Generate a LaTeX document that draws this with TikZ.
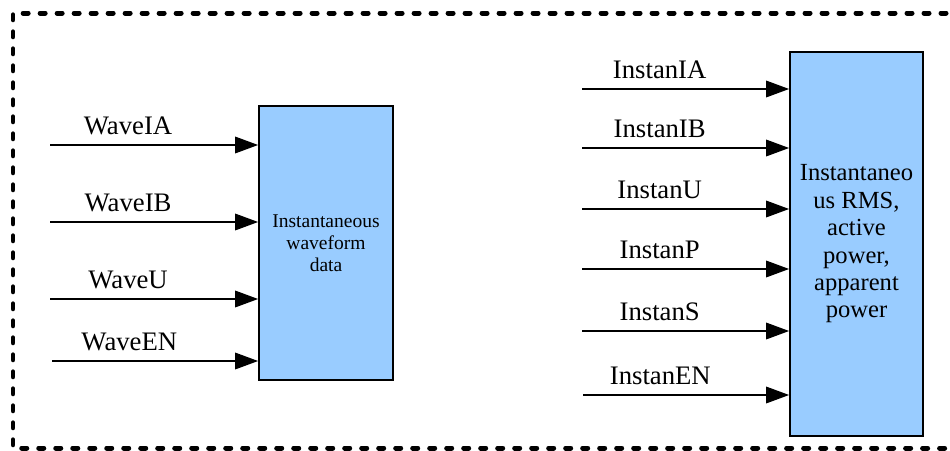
\documentclass[tikz,border=0pt]{standalone}
\usepackage{fontspec}
\setmainfont{Liberation Serif}
\usetikzlibrary{arrows.meta}
\usetikzlibrary{positioning}
\definecolor{boxblue}{RGB}{153,204,255}

\begin{document}
\begin{tikzpicture}[>={Triangle[length=0.46cm,width=0.33cm]},x=0.02cm,y=-0.02cm,line width=1pt]
 \tikzstyle{block node}=[rectangle,draw,fill=boxblue,align=center,inner sep=1]
 \tikzstyle{sig label}=[anchor=base,yshift=0.22cm,pos=0.375,font=\fontsize{15.2}{18}\selectfont]
 \tikzset{
 	frame line/.style={line width=0.1cm,line cap=round,dash pattern=on 0.1cm off 0.24cm}
 }

 \clip (0,0) rectangle (950,450);
 \draw[frame line] (980,13) -- (13,13) -- (13,448) -- (980,448);

       \node[block node,minimum width=2.68cm,minimum height=5.48cm,
             font=\fontsize{11.1}{12.5}\selectfont] (wave) at (326,243) {Instantaneous\\waveform\\data};
       \node[block node,minimum width=2.66cm,minimum height=7.68cm,
             font=\fontsize{14}{15.6}\selectfont] (inst) at (856.5,244) {Instantaneo\\us RMS,\\active\\power,\\apparent\\power};

       \coordinate (wia) at (50,145);
       \coordinate (wib) at (50,222);
       \coordinate (wu)  at (50,299);
       \coordinate (wen) at (52,361);

       \coordinate (iia) at (582,89);
       \coordinate (iib) at (582,148);
       \coordinate (iu)  at (582,209);
       \coordinate (ip)  at (582,269);
       \coordinate (is)  at (582,331);
       \coordinate (ien) at (583,395);

     \path[->]  (wia) edge node[sig label] {WaveIA} (wia -| wave.west);
     \path[->]  (wib) edge node[sig label] {WaveIB} (wib -| wave.west);
     \path[->]  (wu)  edge node[sig label] {WaveU}  (wu -| wave.west);
     \path[->]  (wen) edge node[sig label] {WaveEN} (wen -| wave.west);

     \path[->]  (iia) edge node[sig label] {InstanIA} (iia -| inst.west);
     \path[->]  (iib) edge node[sig label] {InstanIB} (iib -| inst.west);
     \path[->]  (iu)  edge node[sig label] {InstanU}  (iu -| inst.west);
     \path[->]  (ip)  edge node[sig label] {InstanP}  (ip -| inst.west);
     \path[->]  (is)  edge node[sig label] {InstanS}  (is -| inst.west);
     \path[->]  (ien) edge node[sig label] {InstanEN} (ien -| inst.west);
 \end{tikzpicture}
\end{document}
